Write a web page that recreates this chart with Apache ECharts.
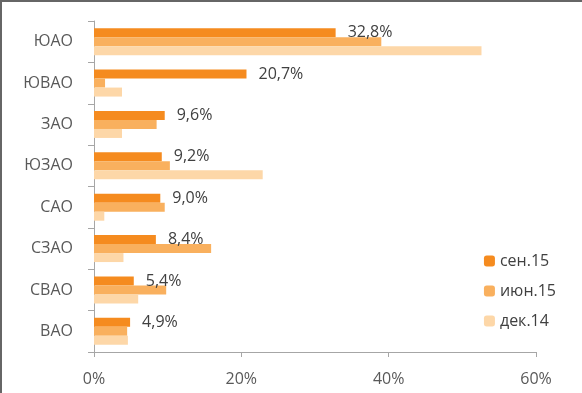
<!DOCTYPE html>
<html><head><meta charset="utf-8">
<script src="https://cdn.jsdelivr.net/npm/echarts@6/dist/echarts.min.js"></script>
<style>html,body{margin:0;padding:0;background:#fff;}#c{width:582px;height:393px;}</style>
</head><body><div id="c"></div>
<script>
const categories = ['ЮАО','ЮВАО','ЗАО','ЮЗАО','САО','СЗАО','СВАО','ВАО'];
const sep15 = [32.8, 20.7, 9.6, 9.2, 9.0, 8.4, 5.4, 4.9];
const jun15 = [39.0, 1.5, 8.5, 10.3, 9.6, 15.9, 9.8, 4.5];
const dec14 = [52.6, 3.8, 3.8, 22.9, 1.4, 4.0, 6.0, 4.6];
const seriesNames = ['сен.15','июн.15','дек.14'];
const xTicks = [0, 20, 40, 60];

const font = '"Open Sans", "DejaVu Sans", sans-serif';
const chart = echarts.init(document.getElementById('c'));
chart.setOption({
  animation: false,
  textStyle: {fontFamily: font},
  graphic: [
    {type:'rect', shape:{x:0,y:0,width:582,height:2}, style:{fill:'#666'}},
    {type:'rect', shape:{x:0,y:0,width:2,height:393}, style:{fill:'#666'}}
  ],
  grid: {left: 94, right: 46, top: 21, bottom: 41, containLabel: false},
  legend: {
    orient: 'vertical', right: 21, top: 248, itemWidth: 11, itemHeight: 11, itemGap: 14,
    textStyle: {fontFamily: font, fontSize: 16, color: '#404040'},
    data: seriesNames
  },
  xAxis: {
    type: 'value', min: xTicks[0], max: xTicks[xTicks.length-1], interval: 20,
    axisLine: {show: true, lineStyle: {color: '#a6a6a6'}},
    axisTick: {show: true, length: 5, lineStyle: {color: '#a6a6a6'}},
    splitLine: {show: false},
    axisLabel: {formatter: v => v + '%', fontSize: 16, color: '#595959', margin: 19, fontFamily: font}
  },
  yAxis: {
    type: 'category', inverse: true, data: categories,
    axisLine: {show: true, lineStyle: {color: '#a6a6a6'}},
    axisTick: {show: true, length: 6, lineStyle: {color: '#a6a6a6'}},
    axisLabel: {fontSize: 16, color: '#595959', margin: 21, fontFamily: font}
  },
  series: [
    {name: seriesNames[0], type: 'bar', data: sep15, barWidth: 9, barGap: '0%',
     itemStyle: {color: '#F58B1F'},
     label: {show: true, position: 'right', distance: 12, fontSize: 16, color: '#404040', fontFamily: font,
       formatter: p => p.value.toFixed(1).replace('.', ',') + '%'}},
    {name: seriesNames[1], type: 'bar', data: jun15, barWidth: 9, barGap: '0%',
     itemStyle: {color: '#F9B05E'}},
    {name: seriesNames[2], type: 'bar', data: dec14, barWidth: 9, barGap: '0%',
     itemStyle: {color: '#FDD7A8'}}
  ]
});
</script></body></html>
